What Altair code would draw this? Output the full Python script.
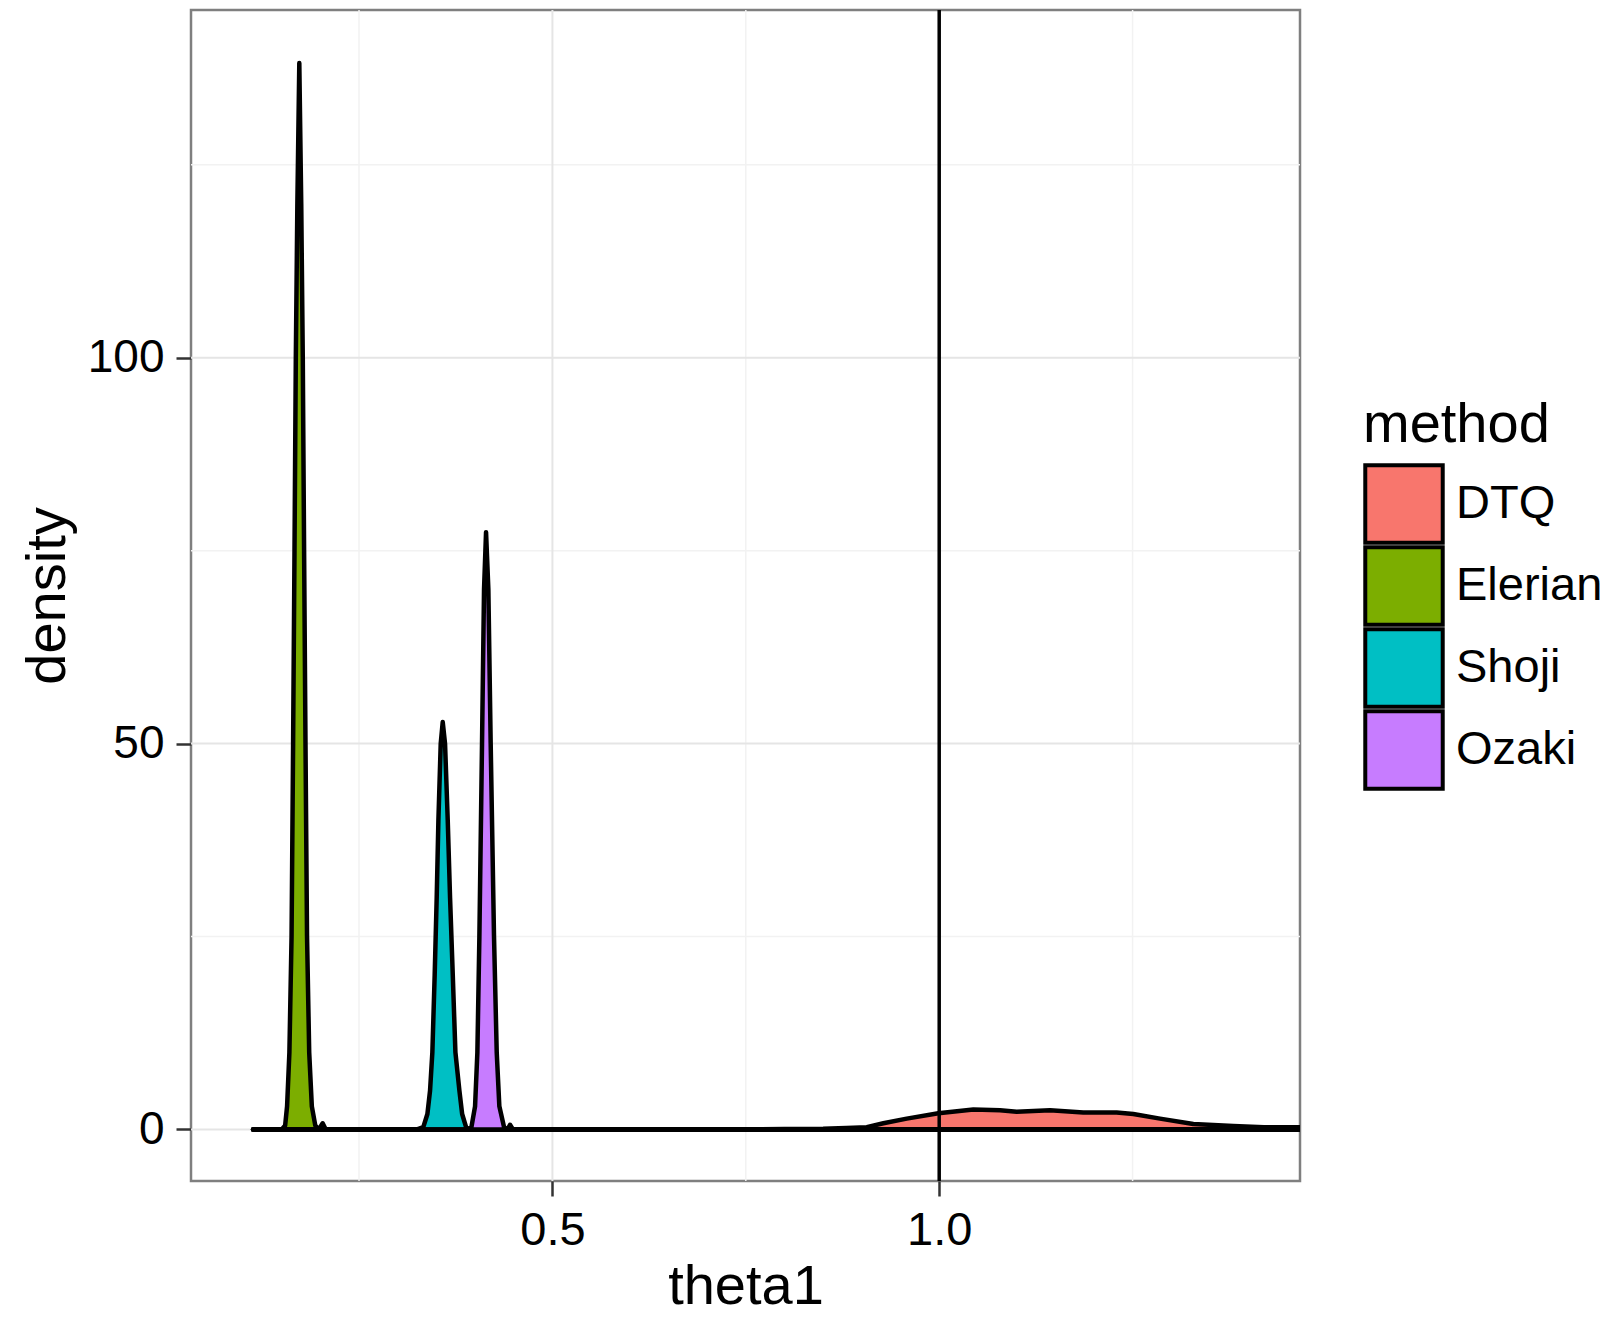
import altair as alt
import pandas as pd

FONT = "Liberation Sans"

methods = ["DTQ", "Elerian", "Shoji", "Ozaki"]
colors = ["#F8766D", "#7CAE00", "#00BFC4", "#C77CFF"]

dtq_x = [0.113, 0.40, 0.60, 0.76, 0.80, 0.85, 0.88, 0.9063, 0.9278, 0.9580, 0.9989, 1.0441,
         1.0786, 1.1002, 1.1432, 1.1863, 1.2294, 1.2509, 1.2854, 1.3285, 1.3802, 1.4200, 1.50]
dtq_y = [0, 0, 0, 0, 0.05, 0.1, 0.2, 0.3, 0.8, 1.4, 2.1, 2.6,
         2.5, 2.3, 2.5, 2.2, 2.2, 2.0, 1.4, 0.7, 0.45, 0.3, 0.25]

elerian_x = [0.113, 0.150, 0.1545, 0.157, 0.160, 0.1628, 0.1648, 0.1666, 0.1683, 0.1703, 0.1728,
             0.1753, 0.1773, 0.1790, 0.1808, 0.1828, 0.1856, 0.1890, 0.1935, 0.198, 0.203, 0.207,
             0.212, 1.50]
elerian_y = [0, 0, 0.5, 3, 10, 25, 50, 75, 100, 120, 138.2,
             120, 100, 75, 50, 25, 10, 3, 0.5, 0, 0.8, 0,
             0, 0]

shoji_x = [0.113, 0.325, 0.3331, 0.3384, 0.3418, 0.3448, 0.3478, 0.3504, 0.3526, 0.3556, 0.3582,
           0.3612, 0.3647, 0.3677, 0.3712, 0.3746, 0.3798, 0.3833, 0.3884, 0.392, 1.50]
shoji_y = [0, 0, 0.3, 2, 5, 10, 20, 30, 40, 50, 52.8,
           50, 40, 30, 20, 10, 5, 2, 0.3, 0, 0]

ozaki_x = [0.113, 0.390, 0.3953, 0.4000, 0.4030, 0.4056, 0.4090, 0.4116, 0.4142, 0.4172, 0.4202,
           0.4245, 0.4280, 0.4314, 0.4375, 0.4420, 0.4452, 0.4490, 1.50]
ozaki_y = [0, 0, 0.3, 3, 10, 25, 50, 70, 77.4, 70, 50,
           25, 10, 3, 0.3, 0, 0.6, 0, 0]

major_x = [0.5, 1.0]
minor_x = [0.25, 0.75, 1.25]
major_y = [0, 50, 100]
minor_y = [25, 75, 125]
vline_x = [1.0]

rows = []
for m, xs, ys in [("DTQ", dtq_x, dtq_y), ("Elerian", elerian_x, elerian_y),
                  ("Shoji", shoji_x, shoji_y), ("Ozaki", ozaki_x, ozaki_y)]:
    for x, y in zip(xs, ys):
        rows.append({"method": m, "theta1": x, "density": y})
df = pd.DataFrame(rows)

xscale = alt.Scale(domain=[0.0328, 1.4664], nice=False, zero=False)
yscale = alt.Scale(domain=[-6.68, 145.07], nice=False, zero=False)

xaxis = alt.Axis(values=major_x, format=".1f", grid=False, domain=False,
                 tickSize=15, tickWidth=2.5, tickColor="#333333",
                 labelFontSize=47, labelColor="black", labelFont=FONT, labelPadding=11,
                 title="theta1", titleFontSize=56, titleFontWeight="normal",
                 titleFont=FONT, titleColor="black", titlePadding=6)
yaxis = alt.Axis(values=major_y, format="d", grid=False, domain=False,
                 tickSize=15, tickWidth=2.5, tickColor="#333333",
                 labelFontSize=46, labelColor="black", labelFont=FONT, labelPadding=12,
                 title="density", titleFontSize=56, titleFontWeight="normal",
                 titleFont=FONT, titleColor="black", titlePadding=11)


def vrules(vals, color, width):
    return alt.Chart(pd.DataFrame({"v": vals})).mark_rule(color=color, strokeWidth=width).encode(
        x=alt.X("v:Q", scale=xscale, axis=xaxis))


def hrules(vals, color, width):
    return alt.Chart(pd.DataFrame({"v": vals})).mark_rule(color=color, strokeWidth=width).encode(
        y=alt.Y("v:Q", scale=yscale, axis=yaxis))


areas = alt.Chart(df).mark_area(
    stroke="black", strokeWidth=4.5, strokeJoin="round", fillOpacity=1, clip=True
).encode(
    x=alt.X("theta1:Q", scale=xscale, axis=xaxis),
    y=alt.Y("density:Q", scale=yscale, stack=None, axis=yaxis),
    color=alt.Color("method:N", scale=alt.Scale(domain=methods, range=colors),
                    legend=alt.Legend(title="method", orient="none", legendX=1172, legendY=388,
                                      titleFontSize=56, titleFontWeight="normal", titleFont=FONT,
                                      titleColor="black", titleLimit=400, labelLimit=400,
                                      labelFontSize=47, labelFont=FONT,
                                      labelColor="black", symbolType="square", symbolSize=6000,
                                      symbolStrokeColor="black", symbolStrokeWidth=4,
                                      symbolOpacity=1, clipHeight=82, rowPadding=0,
                                      labelOffset=11, titlePadding=9)),
)

vline = alt.Chart(pd.DataFrame({"v": vline_x})).mark_rule(color="black", strokeWidth=3.5).encode(
    x=alt.X("v:Q", scale=xscale, axis=xaxis))

chart = alt.layer(
    vrules(minor_x, "#F2F2F2", 1.5),
    hrules(minor_y, "#F2F2F2", 1.5),
    vrules(major_x, "#E5E5E5", 2),
    hrules(major_y, "#E5E5E5", 2),
    areas,
    vline,
).properties(
    width=1109, height=1171,
    autosize=alt.AutoSizeParams(type="none"),
    padding={"left": 183, "top": 2, "right": 305, "bottom": 135},
    background="white",
).configure_view(stroke="#7F7F7F", strokeWidth=2.5)

chart.save("out.html", embed_options={"renderer": "svg", "actions": False})
